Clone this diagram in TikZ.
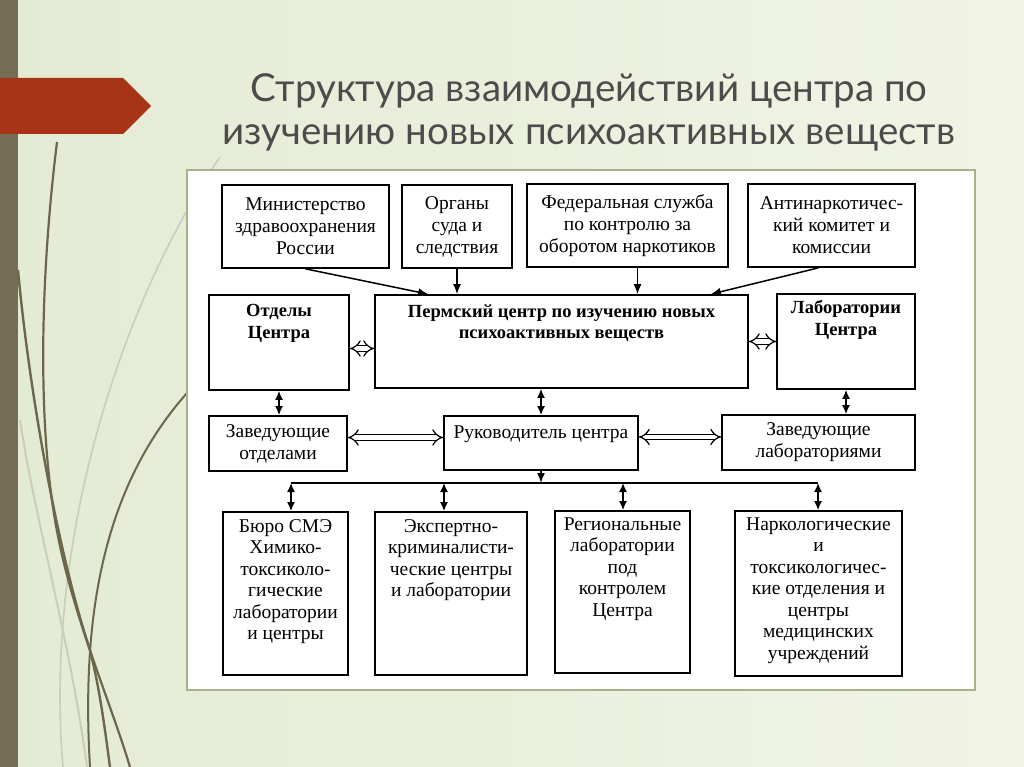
\documentclass[tikz,border=0pt]{standalone}
\usepackage{fontspec}
\setmainfont{Liberation Serif}
\newfontfamily\titlefont{Lato}
\usetikzlibrary{arrows.meta, calc}

\definecolor{bgleft}{RGB}{228,235,212}
\definecolor{bgright}{RGB}{241,244,229}
\definecolor{stripcol}{RGB}{117,110,85}
\definecolor{tabred}{RGB}{168,52,24}
\definecolor{grass}{RGB}{108,103,76}
\definecolor{grasslight}{RGB}{200,206,186}
\definecolor{panelline}{RGB}{168,178,138}
\definecolor{titlegrey}{RGB}{76,76,76}

\tikzset{
  box/.style={draw, line width=1.7pt, inner sep=0pt, align=center,
    font=\fontsize{19.5}{22}\selectfont},
  txt/.style={inner sep=0pt, align=center, font=\fontsize{19.5}{21.5}\selectfont},
  txtb/.style={txt, font=\fontsize{18.5}{21.5}\selectfont\bfseries},
  arr/.style={line width=1.5pt, -{Latex[length=10pt, width=8pt]}},
  darr/.style={line width=1.5pt, {Latex[length=9pt, width=8pt]}-{Latex[length=9pt, width=8pt]}},
  harr/.style={double, double distance=4.5pt, line width=1.2pt, {Implies}-{Implies}},
  headline/.style={anchor=base, text=titlegrey, font=\titlefont\fontsize{38.5}{43}\selectfont}
}

\begin{document}
\begin{tikzpicture}[x=1pt, y=-1pt]

  \useasboundingbox (0,0) rectangle (1024,767);

  % slide background
  \shade[left color=bgleft, right color=bgright] (0,0) rectangle (1024,767);
  \fill[stripcol] (0,0) rectangle (18,767);

  \draw[grasslight, line width=1.6pt] (220,157) .. controls (110,320) and (45,560) .. (63,767);
  \draw[grasslight, line width=2pt] (20,420) .. controls (35,520) and (70,640) .. (87,767);
  \draw[grass, line width=2.2pt] (57,142) .. controls (40,280) and (38,420) .. (55,520)
    .. controls (70,610) and (110,700) .. (130,767);
  \draw[grass, line width=2.4pt] (18,270) .. controls (30,400) and (60,560) .. (90,650)
    .. controls (100,690) and (105,730) .. (110,767);
  \draw[grass, line width=2pt] (187,393) .. controls (110,480) and (80,600) .. (90,767);

  \fill[tabred] (0,78) -- (123,78) -- (151,106) -- (123,134) -- (0,134) -- cycle;

  \node[headline] (title1) at (589,102) {Структура взаимодействий центра по};
  \node[headline] (title2) at (589,145) {изучению новых психоактивных веществ};

  \node[draw=panelline, fill=white, line width=1.5pt, minimum width=788pt,
    minimum height=520pt] (panel) at (581,430) {};

  % top row
  \node[box, minimum width=167pt, minimum height=83pt] (min) at (305.5,226.5)
    {Министерство\\здравоохранения\\России};
  \node[box, minimum width=110pt, minimum height=83pt] (org) at (457,226.5)
    {Органы\\суда и\\следствия};
  \node[box, minimum width=201pt, minimum height=83pt] (fed) at (627.5,225.5)
    {Федеральная служба\\по контролю за\\оборотом наркотиков};
  \node[box, minimum width=167pt, minimum height=83pt] (anti) at (831.5,225.5)
    {Антинаркотичес-\\кий комитет и\\комиссии};

  % centre row
  \node[box, minimum width=140pt, minimum height=95pt] (otd) at (279,342.5) {};
  \node[txtb, anchor=north] (otdT) at ([yshift=-10]otd.north) {Отделы\\Центра};
  \node[box, minimum width=373pt, minimum height=93pt] (perm) at (561.5,341.5) {};
  \node[txtb, anchor=north] (permT) at ([yshift=-10]perm.north)
    {Пермский центр по изучению новых\\психоактивных веществ};
  \node[box, minimum width=138pt, minimum height=95pt] (lab) at (846,341.5) {};
  \node[txtb, anchor=north] (labT) at ([yshift=-7]lab.north) {Лаборатории\\Центра};

  % heads
  \node[box, minimum width=138pt, minimum height=55pt] (zotd) at (278,443.5)
    {Заведующие\\отделами};
  \node[box, minimum width=194pt, minimum height=54pt] (ruk) at (541,443) {};
  \node[txt, anchor=north] (rukT) at ([yshift=-10]ruk.north) {Руководитель центра};
  \node[box, minimum width=193pt, minimum height=55pt] (zlab) at (818.5,442.5)
    {Заведующие\\лабораториями};

  % bottom row
  \node[box, minimum width=125pt, minimum height=163pt] (buro) at (285.5,593.5) {};
  \node[txt, anchor=north] (buroT) at ([yshift=-8]buro.north)
    {Бюро СМЭ\\Химико-\\токсиколо-\\гические\\лаборатории\\и центры};
  \node[box, minimum width=152pt, minimum height=163pt] (exp) at (451,593.5) {};
  \node[txt, anchor=north] (expT) at ([yshift=-8]exp.north)
    {Экспертно-\\криминалисти-\\ческие центры\\и лаборатории};
  \node[box, minimum width=135pt, minimum height=162pt] (reg) at (622.5,592) {};
  \node[txt, anchor=north] (regT) at ([yshift=-7]reg.north)
    {Региональные\\лаборатории\\под\\контролем\\Центра};
  \node[box, minimum width=167pt, minimum height=165pt] (nar) at (818.5,593.5) {};
  \node[txt, anchor=north] (narT) at ([yshift=-7]nar.north)
    {Наркологические\\и\\токсикологичес-\\кие отделения и\\центры\\медицинских\\учреждений};

  % links into the centre
  \draw[arr] (min.south) -- ([xshift=54]perm.north west);
  \draw[arr] (org.south) -- (org.south |- perm.north);
  \draw[arr] ([xshift=10]fed.south) -- ([xshift=10]fed.south |- perm.north);
  \draw[arr] ([xshift=-13]anti.south) -- ([xshift=-38]perm.north east);

  \draw[harr] ([yshift=-6]otd.east) -- ([yshift=-6]otd.east -| perm.west);
  \draw[harr] (perm.east) -- (perm.east -| lab.west);

  \draw[darr] (otd.south) -- (otd.south |- zotd.north);
  \draw[darr] (ruk.north |- perm.south) -- (ruk.north);
  \draw[darr] (lab.south) -- (lab.south |- zlab.north);

  \draw[harr] ([yshift=6]zotd.east) -- ([yshift=6]zotd.east -| ruk.west);
  \draw[harr] ([yshift=6]ruk.east) -- ([yshift=6]ruk.east -| zlab.west);

  % distribution line
  \coordinate (bus) at (541,483);
  \coordinate (busA) at (291,483);
  \coordinate (busB) at (444,483);
  \coordinate (busC) at (623,483);
  \coordinate (busD) at (818,483);

  \draw[line width=1.5pt] (busA) -- (busD);
  \draw[arr] (ruk.south) -- (bus);
  \draw[darr] (busA) -- (busA |- buro.north);
  \draw[darr] (busB) -- (busB |- exp.north);
  \draw[darr] (busC) -- (busC |- reg.north);
  \draw[darr] (busD) -- (busD |- nar.north);

\end{tikzpicture}
\end{document}
